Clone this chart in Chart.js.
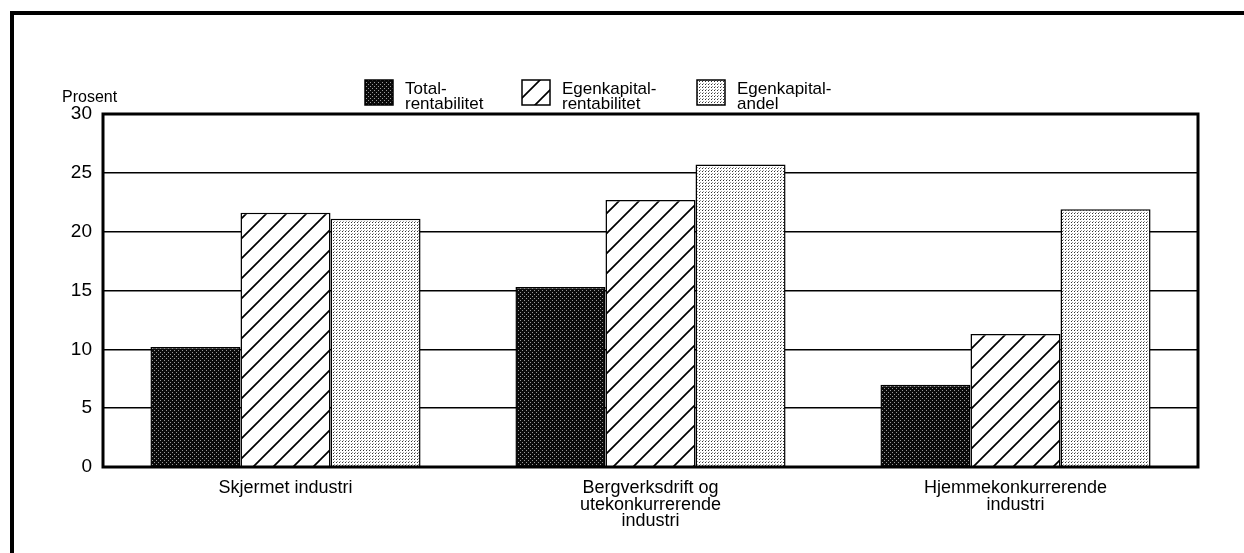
<!DOCTYPE html>
<html>
<head>
<meta charset="utf-8">
<script src="https://cdn.jsdelivr.net/npm/chart.js@4.4.0/dist/chart.umd.min.js"></script>
<style>
  body { margin: 0; background: #fff; }
  #wrap { width: 1244px; height: 553px; }
</style>
</head>
<body>
<div id="wrap"><canvas id="myChart" width="1244" height="553"></canvas></div>
<script>
// data
var kategorier = [
  ["Skjermet industri"],
  ["Bergverksdrift og", "utekonkurrerende", "industri"],
  ["Hjemmekonkurrerende", "industri"]
];
var totalRentabilitet = [10.2, 15.3, 7.0];
var egenkapitalRentabilitet = [21.6, 22.7, 11.3];
var egenkapitalAndel = [21.1, 25.7, 21.9];
var serieNavn = [
  ["Total-", "rentabilitet"],
  ["Egenkapital-", "rentabilitet"],
  ["Egenkapital-", "andel"]
];
var yTicks = [0, 5, 10, 15, 20, 25, 30];

var FONT = "'Liberation Sans', Arial, Helvetica, sans-serif";

function lagMonster(type) {
  var c = document.createElement("canvas");
  var x = c.getContext("2d");
  if (type == "mork") {
    c.width = 4; c.height = 4;
    x.fillStyle = "#0a0a0a";
    x.fillRect(0, 0, 4, 4);
    x.fillStyle = "#999";
    x.fillRect(0, 0, 1, 1);
    x.fillRect(2, 2, 1, 1);
  } else if (type == "skravur") {
    c.width = 20; c.height = 20;
    x.fillStyle = "#fff";
    x.fillRect(0, 0, 20, 20);
    x.strokeStyle = "#000";
    x.lineWidth = 1.7;
    x.beginPath();
    x.moveTo(-5, 25); x.lineTo(25, -5);
    x.moveTo(-25, 25); x.lineTo(5, -5);
    x.moveTo(15, 25); x.lineTo(45, -5);
    x.stroke();
  } else {
    c.width = 3; c.height = 3;
    x.fillStyle = "#fff";
    x.fillRect(0, 0, 3, 3);
    x.fillStyle = "#333";
    x.fillRect(0, 0, 1, 1);
    x.fillStyle = "#999";
    x.fillRect(1, 2, 1, 1);
  }
  return document.getElementById("myChart").getContext("2d").createPattern(c, "repeat");
}

var monstre = [lagMonster("mork"), lagMonster("skravur"), lagMonster("prikk")];

// ramme, "Prosent", legend and the thick plot border
var tegnEkstra = {
  id: "tegnEkstra",
  beforeDraw: function (chart) {
    var ctx = chart.ctx;
    ctx.save();
    ctx.strokeStyle = "#000";
    ctx.lineWidth = 4;
    ctx.beginPath();
    ctx.moveTo(12, 560);
    ctx.lineTo(12, 13);
    ctx.lineTo(1250, 13);
    ctx.stroke();
    ctx.restore();
  },
  afterDraw: function (chart) {
    var ctx = chart.ctx;
    var a = chart.chartArea;
    ctx.save();
    ctx.strokeStyle = "#000";
    ctx.lineWidth = 3;
    ctx.strokeRect(a.left, a.top, a.right - a.left, a.bottom - a.top);

    ctx.fillStyle = "#000";
    ctx.font = "16px " + FONT;
    ctx.textBaseline = "middle";
    ctx.fillText("Prosent", 62, 98);

    var boksX = [365, 522, 697];
    for (var i = 0; i < serieNavn.length; i++) {
      ctx.fillStyle = monstre[i];
      ctx.fillRect(boksX[i], 80, 28, 25);
      ctx.lineWidth = 1.5;
      ctx.strokeRect(boksX[i], 80, 28, 25);
      ctx.fillStyle = "#000";
      ctx.font = "17px " + FONT;
      ctx.fillText(serieNavn[i][0], boksX[i] + 40, 89);
      ctx.fillText(serieNavn[i][1], boksX[i] + 40, 104);
    }
    ctx.restore();
  }
};

var datasett = [totalRentabilitet, egenkapitalRentabilitet, egenkapitalAndel].map(function (d, i) {
  return {
    label: serieNavn[i].join(""),
    data: d,
    backgroundColor: monstre[i],
    borderColor: "#000",
    borderWidth: 1.5,
    categoryPercentage: 0.74,
    barPercentage: 1.0
  };
});

new Chart(document.getElementById("myChart"), {
  type: "bar",
  data: { labels: kategorier, datasets: datasett },
  plugins: [tegnEkstra],
  options: {
    responsive: false,
    animation: false,
    layout: { padding: { top: 114, right: 46, left: 0, bottom: 0 } },
    plugins: { legend: { display: false }, tooltip: { enabled: false } },
    scales: {
      x: {
        grid: { display: false },
        border: { display: false },
        ticks: {
          color: "#000",
          font: { family: FONT, size: 18, lineHeight: 0.92 },
          padding: 5,
          maxRotation: 0,
          autoSkip: false
        },
        afterFit: function (s) { s.height = 86; }
      },
      y: {
        min: 0,
        max: 30,
        afterBuildTicks: function (s) {
          s.ticks = yTicks.map(function (v) { return { value: v }; });
        },
        grid: { color: "#000", lineWidth: 1.5, drawTicks: false },
        border: { display: false },
        ticks: {
          color: "#000",
          font: { family: FONT, size: 19 },
          padding: 11
        },
        afterFit: function (s) { s.width = 103; }
      }
    }
  }
});
</script>
</body>
</html>
